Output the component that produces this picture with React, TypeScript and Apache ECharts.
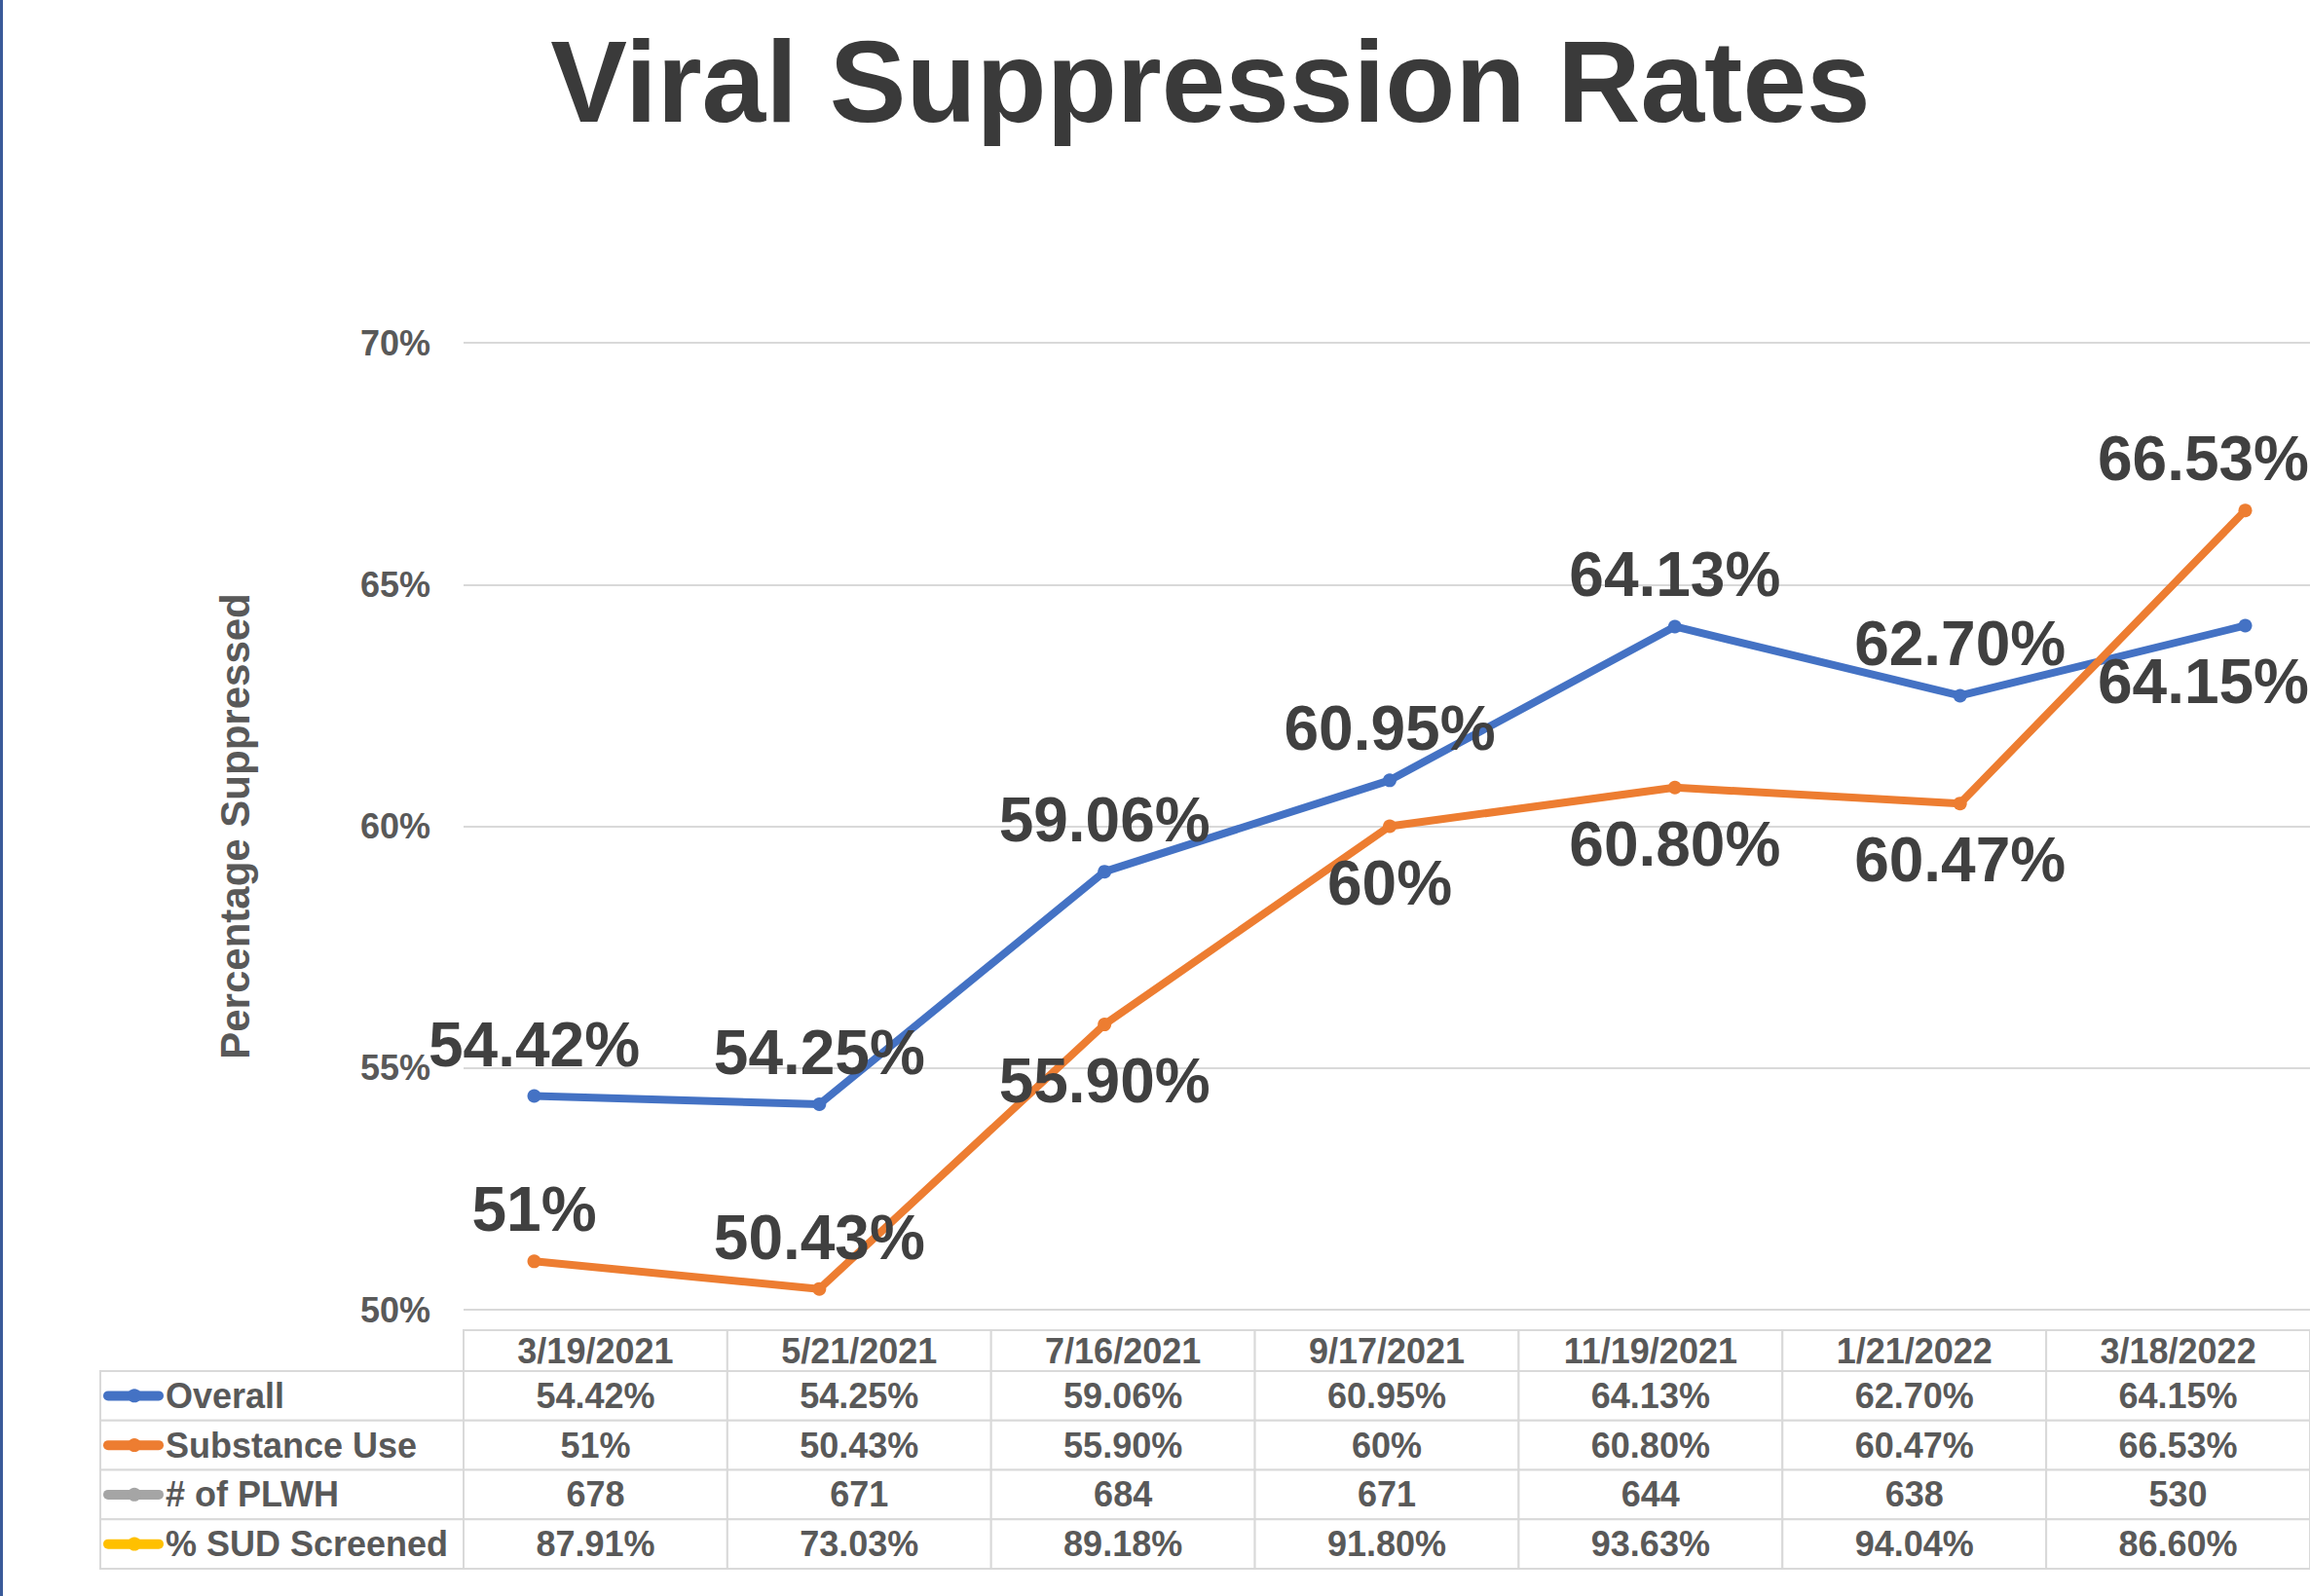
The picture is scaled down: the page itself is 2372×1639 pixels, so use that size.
import React, { useEffect, useRef } from "react";
import * as echarts from "echarts";

// ---------- data ----------
const dates = ["3/19/2021", "5/21/2021", "7/16/2021", "9/17/2021", "11/19/2021", "1/21/2022", "3/18/2022"];
const overall = [54.42, 54.25, 59.06, 60.95, 64.13, 62.7, 64.15];
const substanceUse = [51, 50.43, 55.9, 60, 60.8, 60.47, 66.53];
const plwh = [678, 671, 684, 671, 644, 638, 530];
const sudScreened = [87.91, 73.03, 89.18, 91.8, 93.63, 94.04, 86.6];
const rowNames = ["Overall", "Substance Use", "# of PLWH", "% SUD Screened"];
const yTicks = [50, 55, 60, 65, 70];
const titleText = "Viral Suppression Rates";
const yAxisTitle = "Percentage Suppressed";

// ---------- style ----------
const colors = ["#4472C4", "#ED7D31", "#A5A5A5", "#FFC000"];
const FONT = '"Liberation Sans", Arial, Helvetica, sans-serif';
const overallLabelPlacement = ["above", "above", "above", "above", "above", "above", "belowLeft"];
const substanceLabelPlacement = ["above", "above", "below", "below", "below", "below", "aboveLeft"];
const placementOffset: Record<string, number[]> = {
  above: [0, -53],
  below: [0, 58],
  belowLeft: [-43, 58],
  aboveLeft: [-43, -53],
};

const pct = (v: number) => (Number.isInteger(v) ? `${v}%` : `${v.toFixed(2)}%`);

const tableRows: string[][] = [
  overall.map(pct),
  substanceUse.map(pct),
  plwh.map((v) => String(v)),
  sudScreened.map(pct),
];

export default function App() {
  const ref = useRef<HTMLDivElement>(null);

  useEffect(() => {
    if (!ref.current) return;
    const chart = echarts.init(ref.current, undefined, { renderer: "svg" });

    const bodyCells: number[][] = [];
    tableRows.forEach((row, r) => row.forEach((_, c) => bodyCells.push([c, r])));
    const headerCells = dates.map((_, c) => [c, 0]);
    const rowHeaderCells = rowNames.map((_, r) => [0, r]);

    const borderColor = "#D9D9D9";
    const tableText = "#595959";
    const labelColWidth = 373;

    const lineSeries = (name: string, values: number[], placement: string[], color: string) => ({
      type: "line",
      name,
      xAxisIndex: 0,
      yAxisIndex: 0,
      data: values.map((v, i) => ({
        value: [i, v],
        label: { offset: placementOffset[placement[i]] },
      })),
      symbol: "circle",
      symbolSize: 14,
      lineStyle: { width: 8, color, cap: "round", join: "round" },
      itemStyle: { color },
      label: {
        show: true,
        position: "inside",
        formatter: (p: any) => pct(p.value[1]),
        fontSize: 64,
        fontWeight: "bold",
        fontFamily: FONT,
        color: "#404040",
        textBorderWidth: 0,
        align: "center",
        verticalAlign: "middle",
      },
      z: 3,
    });

    const option: any = {
      animation: false,
      backgroundColor: "#ffffff",
      graphic: [
        {
          type: "rect",
          shape: { x: 0, y: 0, width: 3, height: 1639 },
          style: { fill: "#3A5A99" },
        },
        {
          type: "text",
          x: 1243,
          y: 84,
          style: {
            text: titleText,
            fontSize: 118,
            fontWeight: "bold",
            fontFamily: FONT,
            fill: "#3A3A3A",
            align: "center",
            verticalAlign: "middle",
          },
        },
      ],
      grid: [
        { left: 476, top: 352, width: 1896, height: 993 },
        { left: 476, top: 1366, width: 1904, height: 42 },
        { left: 476, top: 1408, width: 1904, height: 203 },
      ],
      xAxis: [
        { type: "value", gridIndex: 0, min: -0.2476, max: 6.2271, show: false, splitLine: { show: false } },
        { type: "category", gridIndex: 1, data: dates, boundaryGap: true, show: false },
        { type: "category", gridIndex: 2, data: dates, boundaryGap: true, show: false },
      ],
      yAxis: [
        {
          type: "value",
          gridIndex: 0,
          min: yTicks[0],
          max: yTicks[yTicks.length - 1],
          interval: yTicks[1] - yTicks[0],
          axisLine: { show: false },
          axisTick: { show: false },
          splitLine: { lineStyle: { color: borderColor, width: 2 } },
          axisLabel: {
            formatter: "{value}%",
            fontSize: 36,
            fontWeight: "bold",
            fontFamily: FONT,
            color: tableText,
            margin: 34,
          },
          name: yAxisTitle,
          nameLocation: "middle",
          nameRotate: 90,
          nameGap: 214,
          nameTextStyle: { fontSize: 42, fontWeight: "bold", fontFamily: FONT, color: tableText },
        },
        { type: "category", gridIndex: 1, data: ["header"], show: false },
        { type: "category", gridIndex: 2, data: rowNames, inverse: true, show: false },
      ],
      series: [
        lineSeries(rowNames[0], overall, overallLabelPlacement, colors[0]),
        lineSeries(rowNames[1], substanceUse, substanceLabelPlacement, colors[1]),
        {
          type: "custom",
          xAxisIndex: 1,
          yAxisIndex: 1,
          clip: false,
          data: headerCells,
          encode: { x: 0, y: 1 },
          renderItem: (params: any, api: any) => {
            const c = api.coord([api.value(0), api.value(1)]);
            const s = api.size([1, 1]);
            const cs = params.coordSys;
            return {
              type: "group",
              children: [
                {
                  type: "rect",
                  shape: { x: c[0] - s[0] / 2, y: cs.y, width: s[0], height: cs.height },
                  style: { fill: "#ffffff", stroke: borderColor, lineWidth: 2 },
                },
                {
                  type: "text",
                  x: c[0],
                  y: cs.y + cs.height / 2,
                  style: {
                    text: dates[params.dataIndex],
                    fontSize: 36,
                    fontWeight: "bold",
                    fontFamily: FONT,
                    fill: tableText,
                    align: "center",
                    verticalAlign: "middle",
                  },
                },
              ],
            };
          },
        },
        {
          type: "custom",
          xAxisIndex: 2,
          yAxisIndex: 2,
          clip: false,
          data: bodyCells,
          encode: { x: 0, y: 1 },
          renderItem: (params: any, api: any) => {
            const col = api.value(0);
            const row = api.value(1);
            const c = api.coord([col, row]);
            const s = api.size([1, 1]);
            const cell = bodyCells[params.dataIndex];
            return {
              type: "group",
              children: [
                {
                  type: "rect",
                  shape: { x: c[0] - s[0] / 2, y: c[1] - s[1] / 2, width: s[0], height: s[1] },
                  style: { fill: "#ffffff", stroke: borderColor, lineWidth: 2 },
                },
                {
                  type: "text",
                  x: c[0],
                  y: c[1],
                  style: {
                    text: tableRows[cell[1]][cell[0]],
                    fontSize: 36,
                    fontWeight: "bold",
                    fontFamily: FONT,
                    fill: tableText,
                    align: "center",
                    verticalAlign: "middle",
                  },
                },
              ],
            };
          },
        },
        {
          type: "custom",
          xAxisIndex: 2,
          yAxisIndex: 2,
          clip: false,
          data: rowHeaderCells,
          encode: { x: 0, y: 1 },
          renderItem: (params: any, api: any) => {
            const r = params.dataIndex;
            const c = api.coord([0, api.value(1)]);
            const s = api.size([1, 1]);
            const x0 = params.coordSys.x - labelColWidth;
            const color = colors[r];
            return {
              type: "group",
              children: [
                {
                  type: "rect",
                  shape: { x: x0, y: c[1] - s[1] / 2, width: labelColWidth, height: s[1] },
                  style: { fill: "#ffffff", stroke: borderColor, lineWidth: 2 },
                },
                {
                  type: "line",
                  shape: { x1: x0 + 8, y1: c[1], x2: x0 + 60, y2: c[1] },
                  style: { stroke: color, lineWidth: 10, lineCap: "round" },
                },
                {
                  type: "circle",
                  shape: { cx: x0 + 35, cy: c[1], r: 7 },
                  style: { fill: color },
                },
                {
                  type: "text",
                  x: x0 + 67,
                  y: c[1],
                  style: {
                    text: rowNames[r],
                    fontSize: 36,
                    fontWeight: "bold",
                    fontFamily: FONT,
                    fill: tableText,
                    align: "left",
                    verticalAlign: "middle",
                  },
                },
              ],
            };
          },
        },
      ],
    };

    chart.setOption(option);
    return () => chart.dispose();
  }, []);

  return (
    <div
      ref={ref}
      style={{ position: "fixed", left: 0, top: 0, width: 2372, height: 1639, background: "#ffffff" }}
    />
  );
}
